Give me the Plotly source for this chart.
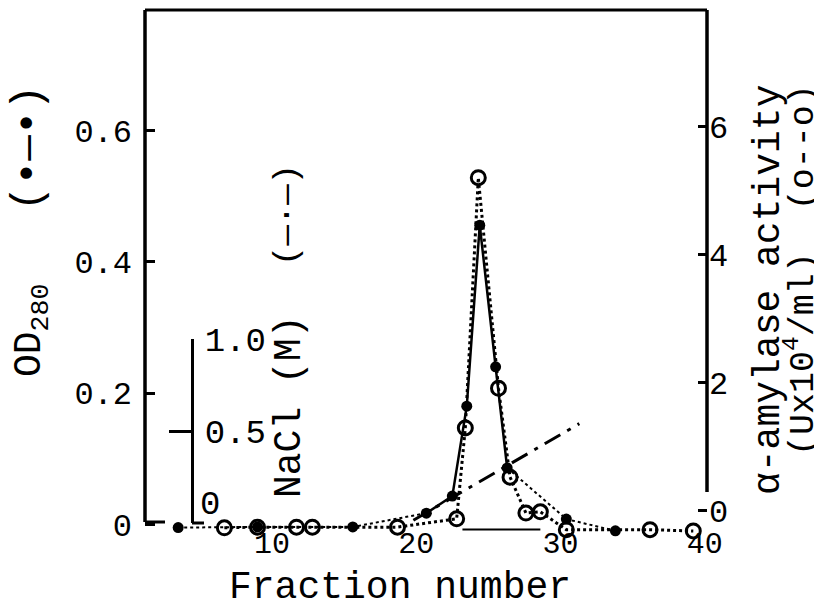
import plotly.graph_objects as go

# ---------------- data ----------------
# OD280 (filled dots), left axis
od_fraction = [3.5, 9.0, 15.6, 20.7, 22.5, 23.5, 24.4, 25.5, 26.3, 30.4, 33.8]
od_value = [-0.005, -0.004, -0.004, 0.017, 0.043, 0.180, 0.456, 0.240, 0.086, 0.008, -0.010]

# alpha-amylase activity (open circles), right axis (U x 10^4 / ml)
act_fraction = [6.7, 9.0, 11.7, 12.8, 18.7, 22.8, 23.4, 24.3, 25.7, 26.5, 27.6, 28.6, 30.4, 36.2, 39.2]
act_value = [-0.27, -0.26, -0.26, -0.26, -0.26, -0.13, 1.29, 5.20, 1.91, 0.52, -0.04, -0.02, -0.30, -0.30, -0.32]

# NaCl gradient (dash-dot), inner axis (M)
nacl_fraction = [19.8, 31.3]
nacl_molar = [0.015, 0.54]

# short baseline segment under the peak
seg_fraction = [23.2, 28.6]
seg_value = [-0.008, -0.008]

x_ticks = [10, 20, 30, 40]
od_ticks = [0, 0.2, 0.4, 0.6]
od_ticktext = ["0", "0.2", "0.4", "0.6"]
act_ticks = [0, 2, 4, 6]
nacl_ticks = [0.5, 1.0]
nacl_ticktext = ["0.5", "1.0"]

# ---------------- layout geometry ----------------
# the page body has an 8px margin, so the figure is drawn 8px in from the window corner
PAGE = 8
W, H = 822 - PAGE, 609 - PAGE
# plot-area edges in window pixels
L, R, T, B = 145, 707, 10, 540
FONT = "Liberation Mono, Courier New, monospace"


def xp(px):
    return (px - L) / (R - L)


def yp(py):
    return (B - py) / (B - T)


fig = go.Figure()

# NaCl gradient
fig.add_trace(go.Scatter(x=nacl_fraction, y=nacl_molar, xaxis="x", yaxis="y3",
                         mode="lines", line=dict(color="black", width=3, dash="18px,8px,4px,8px"),
                         showlegend=False, cliponaxis=False))

# baseline segment
fig.add_trace(go.Scatter(x=seg_fraction, y=seg_value, yaxis="y", mode="lines",
                         line=dict(color="black", width=2), showlegend=False))

# OD lines: dotted at baseline, solid over the peak
fig.add_trace(go.Scatter(x=od_fraction[:4], y=od_value[:4], yaxis="y", mode="lines",
                         line=dict(color="black", width=2, dash="dot"), showlegend=False))
fig.add_trace(go.Scatter(x=od_fraction[3:9], y=od_value[3:9], yaxis="y", mode="lines",
                         line=dict(color="black", width=2.5), showlegend=False))
fig.add_trace(go.Scatter(x=od_fraction[8:], y=od_value[8:], yaxis="y", mode="lines",
                         line=dict(color="black", width=2, dash="dot"), showlegend=False))

# activity (open circles, dotted)
fig.add_trace(go.Scatter(x=act_fraction, y=act_value, yaxis="y2", mode="lines+markers",
                         line=dict(color="black", width=3, dash="dot"),
                         marker=dict(symbol="circle-open", size=14, color="black",
                                     line=dict(width=3, color="black")),
                         showlegend=False, cliponaxis=False))

# OD markers
fig.add_trace(go.Scatter(x=od_fraction, y=od_value, yaxis="y", mode="markers",
                         marker=dict(symbol="circle", size=11, color="black"),
                         showlegend=False, cliponaxis=False))

od_lo = (524.3 - B) / 656
od_hi = (524.3 - T) / 656
act_lo = (510.5 - B) / 64
act_hi = (510.5 - T) / 64

axis_common = dict(showgrid=False, zeroline=False, color="black", automargin=False,
                   tickfont=dict(family=FONT, size=32, color="black"))

frame = dict(color="black", width=3.5)
shapes = [
    # top border
    dict(type="line", x0=0, x1=1, y0=1, y1=1, line=dict(color="black", width=3)),
    # left axis line with its foot
    dict(type="line", x0=0, x1=0, y0=yp(522), y1=1, line=frame),
    dict(type="line", x0=0, x1=xp(165), y0=yp(522), y1=yp(522), line=dict(color="black", width=3)),
    # right axis line
    dict(type="line", x0=1, x1=1, y0=yp(492), y1=1, line=frame),
    # foot of the NaCl axis
    dict(type="line", x0=xp(192), x1=xp(204), y0=yp(523), y1=yp(523), line=dict(color="black", width=3)),
]
for s in shapes:
    s.update(xref="paper", yref="paper")

x_common = dict(axis_common)
x_common["tickfont"] = dict(family=FONT, size=30, color="black")

fig.update_layout(
    width=W, height=H,
    margin=dict(l=L - PAGE, r=822 - R, t=T - PAGE, b=609 - B, pad=0, autoexpand=False),
    paper_bgcolor="white", plot_bgcolor="rgba(0,0,0,0)",
    font=dict(family=FONT, color="black"),
    xaxis=dict(range=[1.20, 40.15], tickvals=x_ticks, ticks="", showline=False,
               anchor="free", position=yp(522), **x_common),
    yaxis=dict(range=[od_lo, od_hi], tickvals=od_ticks, ticktext=od_ticktext,
               showline=False,
               ticks="inside", ticklen=10, tickwidth=2.5, tickcolor="black",
               ticklabelstandoff=12, **axis_common),
    yaxis2=dict(range=[act_lo, act_hi], tickvals=act_ticks, overlaying="y", side="right",
                anchor="x", showline=False,
                ticks="inside", ticklen=9, tickwidth=2.5, tickcolor="black",
                ticklabelstandoff=1, **axis_common),
    yaxis3=dict(range=[0, 1.0], domain=[yp(523), yp(339)], anchor="free", position=xp(192),
                side="right", tickvals=nacl_ticks, ticktext=nacl_ticktext,
                showline=True, linewidth=3, linecolor="black",
                ticks="inside", ticklen=22, tickwidth=2.5, tickcolor="black",
                ticklabelstandoff=4,
                showgrid=False, zeroline=False, automargin=False,
                tickfont=dict(family=FONT, size=34, color="black")),
    shapes=shapes,
)

ann_font = dict(family=FONT, color="black")
annotations = [
    dict(text="(•—•)", x=xp(29), y=yp(148), textangle=-90, font=dict(size=42, **ann_font)),
    dict(text="OD<sub>280</sub>", x=xp(32), y=yp(330), textangle=-90, font=dict(size=38, **ann_font)),
    dict(text="(—·—)", x=xp(287), y=yp(215), textangle=-90, font=dict(size=34, **ann_font)),
    dict(text="NaCl (M)", x=xp(290), y=yp(407), textangle=-90, font=dict(size=38, **ann_font)),
    dict(text="0", x=xp(210), y=yp(505), font=dict(size=34, **ann_font)),
    dict(text="α-amylase activity", x=xp(768), y=yp(290), textangle=-90, font=dict(size=38, **ann_font)),
    dict(text="(Ux10<sup>4</sup>/ml)  (o--o)", x=xp(801), y=yp(270), textangle=-90,
         font=dict(size=35, **ann_font)),
    dict(text="Fraction number", x=xp(400), y=yp(587), font=dict(size=38, **ann_font)),
]
for a in annotations:
    a.update(xref="paper", yref="paper", showarrow=False, xanchor="center", yanchor="middle")
fig.update_layout(annotations=annotations)

fig.write_html("out.html")
